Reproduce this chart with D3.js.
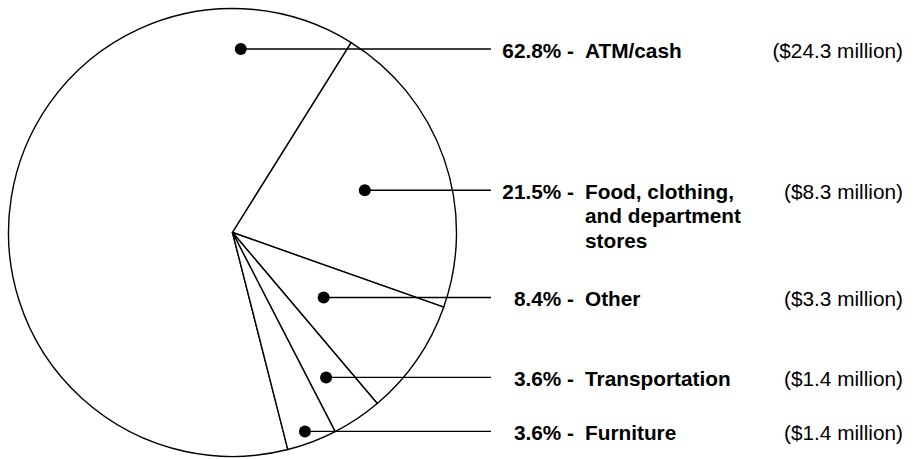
<!DOCTYPE html>
<html>
<head>
<meta charset="utf-8">
<script src="https://cdn.jsdelivr.net/npm/d3@7"></script>
<style>
  body { margin: 0; background: #fff; }
  text { font-family: "Liberation Sans", Arial, sans-serif; font-size: 20.8px; fill: #000; }
</style>
</head>
<body>
<div id="chart"></div>
<script>
// data
const categories = ["ATM/cash", "Food, clothing, and department stores", "Other", "Transportation", "Furniture"];
const labelLines = [["ATM/cash"], ["Food, clothing,", "and department", "stores"], ["Other"], ["Transportation"], ["Furniture"]];
const percents = [62.8, 21.5, 8.4, 3.6, 3.6];
const millions = [24.3, 8.3, 3.3, 1.4, 1.4];

// where each dot sits inside its slice (fraction along the arc, fraction of radius)
const dotAlong = [0.87, 0.52, 0.53, 0.57, 0.56];
const dotRadius = [0.82, 0.62, 0.5, 0.77, 0.945];

let width = 918, height = 459;
let cx = 232.5, cy = 232.5, r = 224;

let svg = d3.select("#chart").append("svg")
    .attr("width", width)
    .attr("height", height);

let g = svg.append("g")
    .attr("transform", "translate(" + cx + "," + cy + ")");

// Food slice starts at ~32 degrees clockwise from 12 o'clock
let total = d3.sum(percents);
let start = (32 / 360 - percents[0] / total) * 2 * Math.PI;

let pie = d3.pie()
    .sort(null)
    .value(d => d)
    .startAngle(start)
    .endAngle(start + 2 * Math.PI);

let arcs = pie(percents);
let arc = d3.arc().innerRadius(0).outerRadius(r);

g.selectAll("path.slice")
    .data(arcs)
    .enter().append("path")
    .attr("class", "slice")
    .attr("d", arc)
    .attr("fill", "#fff")
    .attr("stroke", "#000")
    .attr("stroke-width", 1.4)
    .attr("stroke-linejoin", "round");

// dot positions
let dots = arcs.map((a, i) => {
    let ang = a.startAngle + (a.endAngle - a.startAngle) * dotAlong[i];
    let rr = r * dotRadius[i];
    return { x: cx + rr * Math.sin(ang), y: cy - rr * Math.cos(ang) };
});

let lineEnd = 491;
let pctX = 574, labelX = 585, moneyX = 903;

svg.selectAll("line.leader")
    .data(dots)
    .enter().append("line")
    .attr("class", "leader")
    .attr("x1", d => d.x)
    .attr("x2", lineEnd)
    .attr("y1", d => d.y)
    .attr("y2", d => d.y)
    .attr("stroke", "#000")
    .attr("stroke-width", 1.4);

svg.selectAll("circle.dot")
    .data(dots)
    .enter().append("circle")
    .attr("class", "dot")
    .attr("cx", d => d.x)
    .attr("cy", d => d.y)
    .attr("r", 6)
    .attr("fill", "#000");

let rows = svg.selectAll("g.row")
    .data(categories)
    .enter().append("g")
    .attr("class", "row")
    .attr("transform", (d, i) => "translate(0," + (dots[i].y + 8.5) + ")");

rows.append("text")
    .attr("x", pctX)
    .attr("text-anchor", "end")
    .attr("font-weight", "bold")
    .text((d, i) => percents[i].toFixed(1) + "% -");

rows.append("text")
    .attr("x", labelX)
    .attr("font-weight", "bold")
    .selectAll("tspan")
    .data((d, i) => labelLines[i])
    .enter().append("tspan")
    .attr("x", labelX)
    .attr("dy", (d, j) => j === 0 ? 0 : 24.5)
    .text(d => d);

rows.append("text")
    .attr("x", moneyX)
    .attr("text-anchor", "end")
    .text((d, i) => "($" + millions[i].toFixed(1) + " million)");
</script>
</body>
</html>
